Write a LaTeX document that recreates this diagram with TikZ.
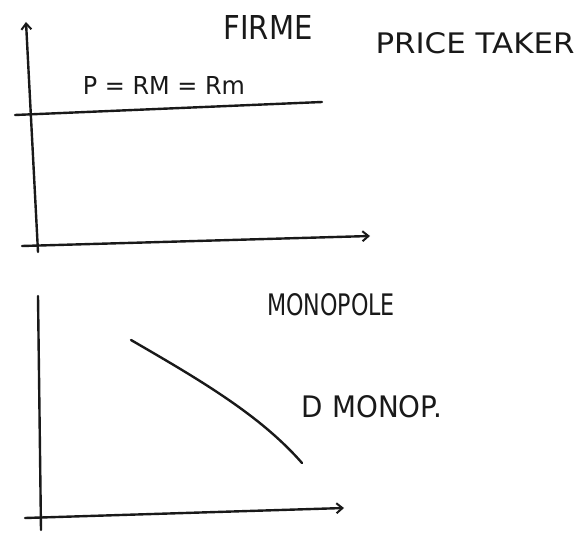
\documentclass[tikz,border=0pt]{standalone}
\usepackage{fontspec}
\setmainfont{DejaVu Sans}
\usetikzlibrary{arrows.meta}
\newcommand{\handtext}[3]{\resizebox{#1pt}{#2pt}{#3}}
\begin{document}
\begin{tikzpicture}[x=1pt,y=-1pt,
  pen/.style={line width=2.4pt,line cap=round,line join=round,black!90},
  axisarrow/.style={pen,-{Straight Barb[length=6pt,width=10pt,line width=2pt]}},
  hand/.style={inner sep=0pt,font=\fontsize{17}{17}\selectfont,black!90}]
\useasboundingbox (0,0) rectangle (580,534);
% top chart
\coordinate (y1b) at (38,252);
\coordinate (y1t) at (26,22);
\coordinate (x1l) at (22,246);
\coordinate (x1r) at (370,236);
\draw[axisarrow] (y1b) -- (y1t);
\draw[axisarrow] (x1l) -- (x1r);
\coordinate (pl) at (15,115);
\coordinate (pr) at (322,102);
\draw[pen] (pl) -- (pr);
\node[hand] (firme) at (268,28) {\handtext{89}{24}{FIRME}};
\node[hand] (taker) at (475,43) {\handtext{199}{21}{PRICE TAKER}};
\node[hand] (prm) at (164,86) {\handtext{162}{18}{P = RM = Rm}};
% bottom chart
\coordinate (y2b) at (41,530);
\coordinate (y2t) at (38,296);
\coordinate (x2l) at (25,518);
\coordinate (x2r) at (344,508);
\draw[pen] (y2b) -- (y2t);
\draw[axisarrow] (x2l) -- (x2r);
\coordinate (da) at (131,340);
\coordinate (db) at (302,463);
\draw[pen] (da) .. controls (200,380) and (260,415) .. (db);
\node[hand] (mono) at (331,305) {\handtext{128}{22}{MONOPOLE}};
\node[hand] (dmon) at (372,407) {\handtext{140}{22}{D MONOP.}};
\end{tikzpicture}
\end{document}
